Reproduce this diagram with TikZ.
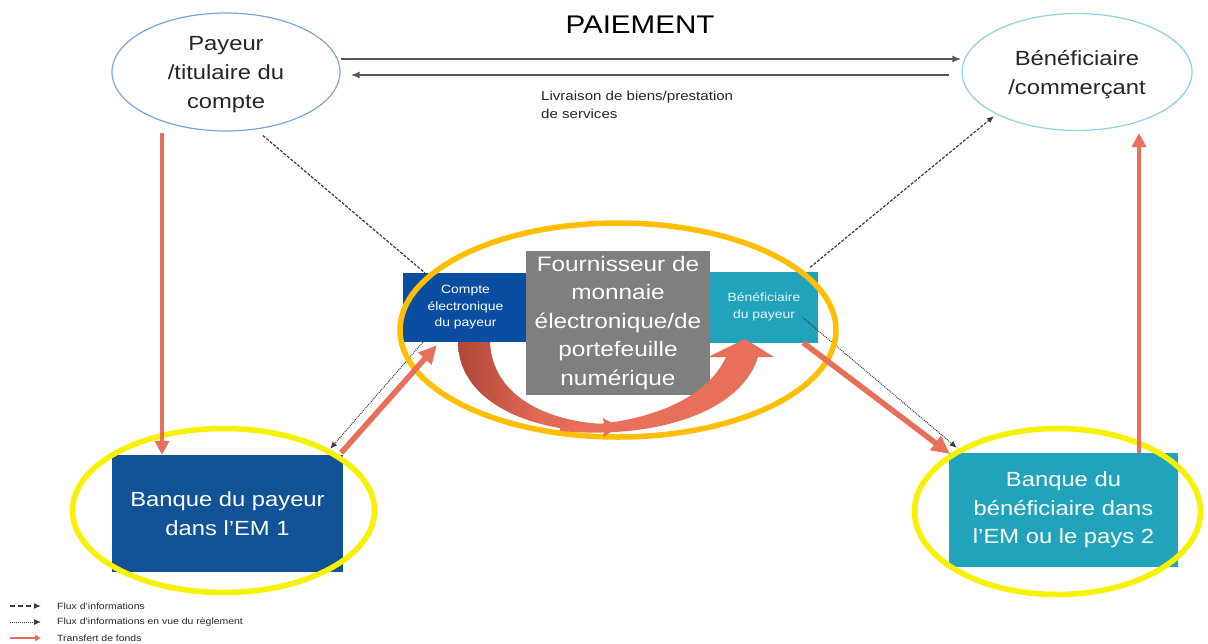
\documentclass[tikz,border=0pt]{standalone}
\usepackage{fontspec}
\setmainfont[FakeStretch=1.16]{Liberation Sans}
\usetikzlibrary{shapes.geometric,arrows.meta}

\definecolor{bankblue}{RGB}{18,82,150}
\definecolor{acctblue}{RGB}{10,78,162}
\definecolor{tealbox}{RGB}{34,163,188}
\definecolor{graybox}{RGB}{127,127,127}
\definecolor{fundred}{RGB}{232,112,90}
\definecolor{fundredd}{RGB}{176,70,54}
\definecolor{ringyellow}{RGB}{248,242,0}
\definecolor{ringorange}{RGB}{255,190,0}
\definecolor{payline}{RGB}{120,166,216}
\definecolor{benline}{RGB}{140,210,228}
\definecolor{inkgray}{RGB}{38,38,38}
\definecolor{flowgray}{RGB}{88,88,88}
\definecolor{infogray}{RGB}{60,60,60}

\tikzset{
  party/.style={ellipse, draw, line width=1.2pt, inner sep=0pt},
  partytext/.style={align=center, text=inkgray, font=\fontsize{20.5}{29}\selectfont},
  box/.style={rectangle, inner sep=0pt, text=white, align=center},
  ring/.style={line width=5.5pt},
  mainflow/.style={draw=flowgray, line width=2pt, -{Latex[length=9pt,width=7pt]}},
  infoflow/.style={draw=infogray, line width=1.2pt, dash pattern=on 3pt off 1.5pt, -{Latex[length=7pt,width=6pt]}},
  settleflow/.style={draw=infogray, line width=1pt, dash pattern=on 1pt off 1pt, -{Latex[length=7pt,width=6pt]}},
  funds/.style={draw=fundred, line width=4.5pt, -{Triangle[length=14pt,width=14pt]}},
  bigfunds/.style={draw=fundred, line width=5.5pt, -{Triangle[length=18pt,width=17pt]}},
  legendtext/.style={anchor=west, text=inkgray, font=\fontsize{9}{10}\selectfont, inner sep=0pt},
}

\begin{document}
\begin{tikzpicture}[x=1pt,y=-1pt]
\useasboundingbox (0,0) rectangle (1208,643);
\fill[white] (0,0) rectangle (1208,643);

% payer and payee
\node[party, draw=payline, minimum width=228pt, minimum height=118pt] (pay) at (226,72) {};
\node[partytext] (paytext) at ([yshift=-3pt]pay.center) {Payeur\\/titulaire du\\compte};
\node[party, draw=benline, minimum width=230pt, minimum height=117pt] (ben) at (1077,72) {};
\node[partytext] (bentext) at ([yshift=-3pt]ben.center) {Bénéficiaire\\/commerçant};

\node[text=black, font=\fontsize{25.5}{30}\selectfont, inner sep=0pt] (title) at (640,25) {PAIEMENT};
\node[anchor=west, align=left, text=inkgray, font=\fontsize{13}{18}\selectfont, inner sep=0pt] (deliv) at (541,105) {Livraison de biens/prestation\\de services};

% banks
\node[box, fill=bankblue, minimum width=231pt, minimum height=117pt, font=\fontsize{20.5}{29.5}\selectfont] (bankA) at (227.5,513.5) {Banque du payeur\\dans l’EM 1};
\node[box, fill=tealbox, minimum width=229pt, minimum height=114pt, font=\fontsize{20.5}{28.5}\selectfont] (bankB) at (1063.5,510) {Banque du\\bénéficiaire dans\\l’EM ou le pays 2};

% e-money / digital wallet provider
\node[box, fill=acctblue, minimum width=125pt, minimum height=69pt, font=\fontsize{12}{16.5}\selectfont] (cpt) at (465.5,307.5) {Compte\\électronique\\du payeur};
\node[box, fill=tealbox, minimum width=108pt, minimum height=71pt, text=white!88!tealbox, font=\fontsize{12}{16.5}\selectfont] (benp) at (764,307) {Bénéficiaire\\du payeur};
\node[box, fill=graybox, minimum width=184pt, minimum height=144pt, font=\fontsize{21}{28.5}\selectfont] (emp) at (618,323) {Fournisseur de\\monnaie\\électronique/de\\portefeuille\\numérique};

% information flows
\coordinate (payOut) at ([xshift=37pt,yshift=-4pt]pay.south);
\coordinate (cptIn) at ([xshift=22pt]cpt.north west);
\draw[infoflow, -] (payOut) -- (cptIn);
\coordinate (benpOut) at ([xshift=-8pt,yshift=4pt]benp.north east);
\coordinate (benIn) at ([xshift=-83pt,yshift=15pt]ben.south);
\draw[infoflow] (benpOut) -- (benIn);

% settlement information
\coordinate (cptOut) at ([xshift=20pt]cpt.south west);
\coordinate (bankAIn) at ([xshift=-13pt,yshift=6pt]bankA.north east);
\draw[settleflow] (cptOut) -- (bankAIn);
\coordinate (benpOut2) at ([xshift=-15pt,yshift=-11pt]benp.east);
\coordinate (bankBIn) at ([xshift=8pt,yshift=5pt]bankB.north west);
\draw[settleflow] (benpOut2) -- (bankBIn);

% highlight rings
\draw[ring, draw=ringyellow] (223.5,510.5) ellipse [x radius=151pt, y radius=82pt];
\draw[ring, draw=ringyellow] (1057.5,511.5) ellipse [x radius=143pt, y radius=83pt];
\draw[ring, draw=ringorange] (618,330) ellipse [x radius=218pt, y radius=107pt];

% payment and delivery
\draw[mainflow] ([yshift=13pt]pay.east) -- ([yshift=13pt]ben.west);
\draw[mainflow] ([xshift=-12pt,yshift=-3pt]ben.west) -- ([xshift=10pt,yshift=-3pt]pay.east);

% transfers of funds
\coordinate (payS) at ([xshift=-64pt,yshift=-1pt]pay.south);
\draw[funds] (payS) -- (payS |- bankA.north);
\coordinate (bankBN) at ([xshift=75.5pt]bankB.north);
\coordinate (benS) at ([xshift=62pt,yshift=-2pt]ben.south);
\draw[funds] (bankBN) -- (bankBN |- benS);
\draw[bigfunds] ([xshift=-2pt,yshift=2pt]bankA.north east) -- ([xshift=34pt,yshift=-3pt]cpt.south west);
\draw[bigfunds] ([xshift=-15pt]benp.south east) -- ([xshift=1pt,yshift=-1pt]bankB.north west);

% internal transfer inside the provider
\shade[left color=fundredd, right color=fundred, middle color=fundred!85!fundredd]
  (458,342) .. controls (458,398) and (522,431) .. (604,432)
  -- (603,437) -- (619,427) -- (603,418) -- (604,424)
  .. controls (542,421) and (492,393) .. (490,342) -- cycle;
\fill[fundred]
  (560,431) .. controls (660,440) and (742,410) .. (758,357)
  -- (774,357) -- (745,339) -- (708,357) -- (726,357)
  .. controls (706,401) and (642,426) .. (560,426) -- cycle;

% legend
\coordinate (lg1a) at (10,606); \coordinate (lg1b) at (41,606);
\coordinate (lg2a) at (10,622); \coordinate (lg2b) at (41,622);
\coordinate (lg3a) at (10,638); \coordinate (lg3b) at (41,638);
\draw[infoflow, dash pattern=on 5pt off 3pt] (lg1a) -- (lg1b);
\draw[settleflow] (lg2a) -- (lg2b);
\draw[draw=fundred, line width=1.5pt, -{Triangle[length=6pt,width=6pt]}] (lg3a) -- (lg3b);
\node[legendtext] (lgt1) at (57,606) {Flux d’informations};
\node[legendtext] (lgt2) at (57,622) {Flux d’informations en vue du règlement};
\node[legendtext] (lgt3) at (57,638) {Transfert de fonds};
\end{tikzpicture}
\end{document}
